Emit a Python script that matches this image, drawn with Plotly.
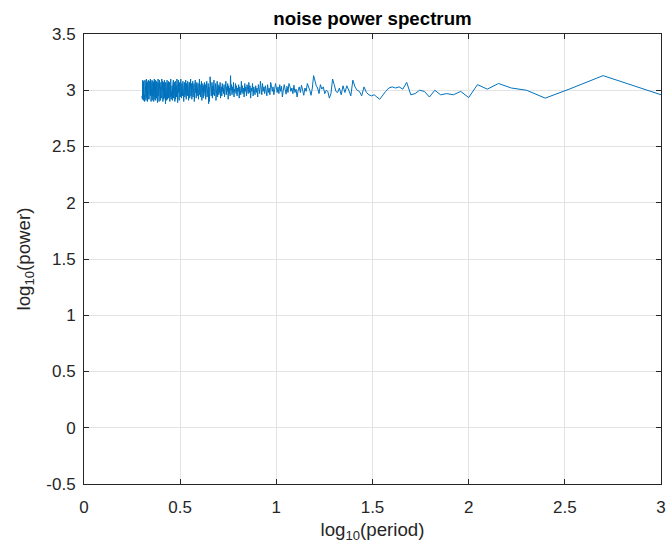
import numpy as np
import plotly.graph_objects as go

# Series length (number of samples) and power values for frequency index k = 1..500
N_SAMPLES = 1000
power = [
    2.96, 3.13, 3.01, 2.93, 3.00, 3.02, 3.06, 3.01, 3.05, 2.935,
    2.99, 2.96, 2.97, 2.96, 3.00, 2.94, 2.99, 3.00, 2.97, 2.96,
    3.07, 3.01, 3.03, 3.02, 3.03, 3.02, 2.99, 2.95, 2.92, 2.94,
    2.96, 2.95, 2.96, 2.98, 3.03, 2.95, 2.99, 3.00, 3.03, 3.09,
    2.95, 3.00, 3.04, 2.98, 3.04, 2.96, 3.02, 2.98, 2.99, 3.05,
    3.10, 2.97, 2.93, 2.99, 3.00, 2.97, 3.03, 3.01, 3.05, 2.97,
    3.02, 3.04, 3.09, 3.13, 3.02, 2.955, 3.00, 3.03, 3.06, 2.99,
    3.02, 2.955, 3.01, 3.045, 2.98, 3.03, 3.00, 2.94, 3.01, 2.98,
    3.045, 2.97, 3.02, 2.99, 3.035, 3.06, 2.98, 3.035, 2.965, 3.02,
    3.05, 3.00, 2.94, 3.035, 2.99, 3.05, 2.97, 3.03, 2.98, 3.02,
    3.06, 3.01, 2.96, 3.03, 2.99, 3.04, 3.07, 2.96, 3.02, 2.98,
    3.05, 2.95, 3.01, 3.04, 2.97, 3.03, 2.99, 3.06, 2.96, 3.02,
    3.08, 2.97, 3.00, 3.05, 2.94, 3.02, 2.98, 3.04, 2.96, 3.01,
    3.03, 2.95, 3.06, 2.99, 3.02, 2.93, 3.04, 2.98, 3.07, 2.97,
    3.01, 3.05, 2.95, 3.03, 2.99, 3.06, 2.94, 3.02, 2.97, 3.04,
    2.98, 3.08, 2.96, 3.01, 3.03, 2.93, 3.05, 2.99, 3.02, 2.95,
    3.04, 2.97, 3.06, 2.99, 3.01, 2.94, 3.07, 2.98, 3.03, 2.96,
    3.05, 3.00, 3.13, 2.95, 3.02, 2.97, 3.04, 2.92, 3.06, 2.99,
    3.03, 2.96, 3.08, 2.98, 3.01, 2.94, 3.05, 2.97, 3.02, 2.99,
    3.06, 2.95, 3.03, 3.00, 2.93, 3.07, 2.98, 3.04, 2.96, 3.02,
    3.05, 2.94, 3.08, 3.02, 2.97, 2.91, 3.06, 2.99, 3.03, 2.95,
    3.09, 3.01, 2.96, 3.04, 2.93, 3.07, 2.98, 2.95, 3.02, 3.05,
    3.12, 2.97, 2.90, 3.03, 2.88, 3.06, 2.99, 3.04, 2.94, 3.08,
    3.00, 2.96, 2.92, 3.05, 2.98, 3.07, 3.01, 2.95, 3.04, 2.93,
    3.06, 2.97, 3.03, 2.91, 3.08, 2.99, 3.02, 2.94, 3.05, 2.96,
    3.10, 3.03, 2.98, 2.92, 3.06, 2.97, 3.04, 2.95, 3.07, 3.00,
    2.93, 3.05, 2.98, 3.09, 2.96, 3.02, 2.90, 3.06, 2.99, 3.03,
    2.94, 3.08, 3.01, 2.97, 2.92, 3.06, 3.00, 2.95, 3.10, 2.98,
    3.02, 2.93, 3.07, 2.96, 3.04, 2.91, 3.05, 2.99, 3.08, 2.95,
    3.03, 2.97, 3.06, 2.92, 3.01, 3.09, 2.96, 3.04, 2.94, 3.07,
    2.98, 3.02, 2.90, 3.05, 2.97, 3.08, 2.95, 3.03, 2.99, 3.06,
    2.93, 3.04, 2.97, 3.10, 2.94, 3.02,
    2.96, 3.07, 3.02, 2.91, 3.05, 2.98, 3.09, 3.04, 2.93, 2.89,
    3.06, 2.97, 3.10, 3.01, 2.94, 3.04, 2.99, 2.92, 3.08, 3.05,
    2.90, 2.96, 3.07, 2.95, 3.02, 2.93, 3.09, 2.97, 3.06, 3.01,
    2.91, 3.04, 2.96, 2.99, 3.08, 2.92, 3.05, 3.10, 2.94, 3.03,
    2.98, 2.90, 3.07, 2.96, 3.04, 3.00, 2.93, 3.08, 2.95, 3.02,
    3.06, 2.92, 2.97, 3.09, 3.03, 2.91, 3.05, 2.94, 3.00, 3.07,
    2.88, 2.95, 3.06, 3.02, 2.93, 3.09, 2.97, 3.01, 2.92, 3.07,
    3.04, 2.96, 2.90, 3.05, 3.08, 2.94, 3.00, 3.10, 2.93, 2.97,
    3.06, 2.95, 3.03, 2.91, 2.98, 3.07, 3.02, 2.93, 3.09, 2.96,
    2.90, 3.04, 3.06, 2.95, 2.99, 3.10, 2.94, 3.03, 2.89, 3.01,
    3.07, 2.95, 3.04, 2.93, 3.08, 2.98, 3.05, 2.91, 2.96, 3.09,
    3.02, 2.92, 3.06, 2.97, 3.10, 3.01, 2.94, 2.90, 3.07, 3.03,
    2.95, 3.08, 2.93, 2.99, 3.05, 2.91, 3.09, 3.04, 2.94, 3.02,
    2.97, 2.90, 3.07, 3.01, 2.95, 3.10, 2.96, 3.05, 2.93, 3.03,
    3.08, 2.97, 2.92, 3.06, 3.00, 2.94, 3.09, 2.98, 2.92, 3.07,
    3.04, 2.90, 3.05, 2.96, 3.08, 2.93, 3.02, 3.10, 2.97, 2.91,
    3.06, 2.94, 3.04, 2.99, 2.92, 3.09, 3.03, 2.90, 2.96, 3.07,
    3.05, 2.93, 3.08, 2.97, 2.91, 3.06, 3.01, 2.94, 3.09, 2.96,
    2.92, 3.07, 3.03, 2.95,
]

x_tickvals = [0, 0.5, 1, 1.5, 2, 2.5, 3]
x_ticktext = ["0", "0.5", "1", "1.5", "2", "2.5", "3"]
y_tickvals = [-0.5, 0, 0.5, 1, 1.5, 2, 2.5, 3, 3.5]
y_ticktext = ["-0.5", "0", "0.5", "1", "1.5", "2", "2.5", "3", "3.5"]

k = np.arange(1, len(power) + 1)
period = N_SAMPLES / k
log_period = np.log10(period)

FONT = "Liberation Sans, Arial, sans-serif"
AX = "#262626"

fig = go.Figure(
    go.Scatter(x=log_period, y=power, mode="lines",
               line=dict(color="#0072BD", width=1), hoverinfo="skip")
)

axis_common = dict(
    showline=True, linecolor=AX, linewidth=1, mirror="ticks",
    ticks="inside", ticklen=5, tickcolor=AX, tickwidth=1,
    showgrid=True, gridcolor="#e3e3e3", gridwidth=1, zeroline=False,
    tickfont=dict(family=FONT, size=17, color=AX),
)

fig.update_xaxes(range=[0, 3], tickvals=x_tickvals, ticktext=x_ticktext,
                 ticklabelstandoff=8,
                 title=dict(text="log<sub>10</sub>(period)",
                            font=dict(family=FONT, size=18.7, color=AX), standoff=6),
                 **axis_common)
fig.update_yaxes(range=[-0.5, 3.5], tickvals=y_tickvals, ticktext=y_ticktext,
                 ticklabelstandoff=4,
                 title=dict(text="log<sub>10</sub>(power)",
                            font=dict(family=FONT, size=18.7, color=AX), standoff=10),
                 **axis_common)

fig.update_layout(
    width=667, height=548,
    margin=dict(l=84, r=6, t=34, b=64, autoexpand=False),
    paper_bgcolor="white", plot_bgcolor="white",
    showlegend=False,
    title=dict(text="<b>noise power spectrum</b>", x=0.5, xref="paper",
               y=1 - 18 / 548, yref="container", yanchor="middle", xanchor="center",
               font=dict(family=FONT, size=18.7, color="black")),
)

fig.write_html("out.html",
               config={"displayModeBar": False},
               post_script="document.body.style.margin='0';document.body.style.padding='0';")
